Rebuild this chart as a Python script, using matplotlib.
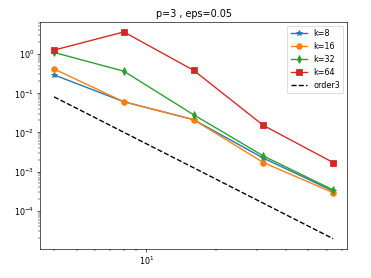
import numpy as np
import matplotlib
matplotlib.use('Agg')
from matplotlib import pyplot as plt

# number of elements and errors
n = [4, 8, 16, 32, 64]
err_k8 = [0.29, 0.060, 0.021, 0.0022, 3.2e-4]
err_k16 = [0.41, 0.060, 0.021, 0.0017, 2.9e-4]
err_k32 = [1.08, 0.36, 0.028, 0.0025, 3.4e-4]
err_k64 = [1.24, 3.6, 0.38, 0.015, 0.0017]
ref_order3 = [0.08, 0.01, 0.00125, 1.56e-4, 1.95e-5]

fig = plt.figure(figsize=(6.4, 4.8), dpi=58)
ax = fig.add_subplot(111)
fig.subplots_adjust(left=0.108, right=0.935, top=0.921, bottom=0.104)

lw, ms = 1.7, 7
ax.loglog(n, err_k8, marker='*', lw=lw, ms=ms, label='k=8')
ax.loglog(n, err_k16, marker='o', lw=lw, ms=ms, label='k=16')
ax.loglog(n, err_k32, marker='d', lw=lw, ms=ms, label='k=32')
ax.loglog(n, err_k64, marker='s', lw=lw, ms=ms, label='k=64')
ax.loglog(n, ref_order3, 'k--', lw=lw, label='order3')
ax.set_title('p=3 , eps=0.05')
ax.legend(loc='upper right')

fig.savefig('out.png', dpi=58)
